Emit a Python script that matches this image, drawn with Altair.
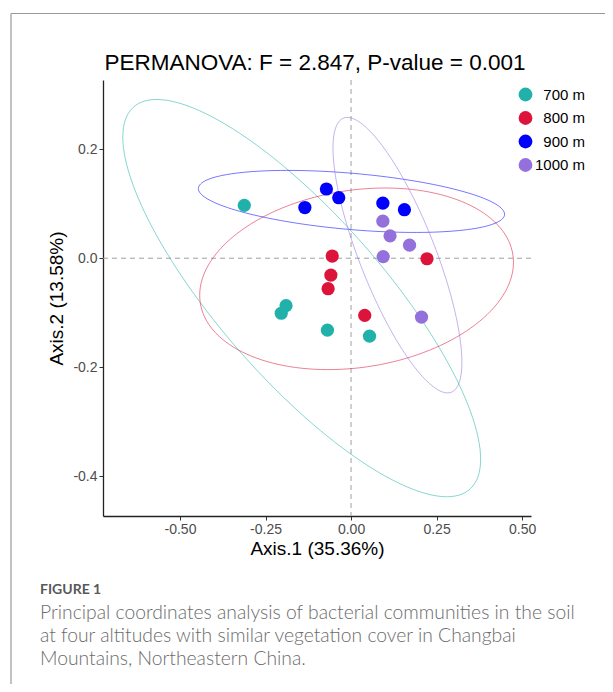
import altair as alt
import numpy as np
import pandas as pd

# ---- data ----
groups = ["700 m", "800 m", "900 m", "1000 m"]
colors = ["#20B2AA", "#DC143C", "#0000FF", "#9370DB"]

x_700 = [-0.312, -0.190, -0.204, -0.069, 0.054]
y_700 = [0.097, -0.087, -0.101, -0.132, -0.143]
x_800 = [-0.055, -0.059, -0.067, 0.040, 0.222]
y_800 = [0.004, -0.031, -0.056, -0.105, -0.001]
x_900 = [-0.072, -0.036, -0.135, 0.093, 0.156]
y_900 = [0.127, 0.111, 0.093, 0.101, 0.089]
x_1000 = [0.093, 0.114, 0.171, 0.094, 0.206]
y_1000 = [0.068, 0.041, 0.024, 0.003, -0.108]

xs = [x_700, x_800, x_900, x_1000]
ys = [y_700, y_800, y_900, y_1000]

title_text = "PERMANOVA: F = 2.847, P-value = 0.001"
x_title = "Axis.1 (35.36%)"
y_title = "Axis.2 (13.58%)"
x_ticks = [-0.5, -0.25, 0.0, 0.25, 0.5]
y_ticks = [-0.4, -0.2, 0.0, 0.2]
x_domain = [-0.725, 0.526]
y_domain = [-0.473, 0.327]

fig_label = "FIGURE 1"
caption_lines = [
    "Principal coordinates analysis of bacterial communities in the soil",
    "at four altitudes with similar vegetation cover in Changbai",
    "Mountains, Northeastern China.",
]

# ---- build tables ----
rows = []
for g, gx, gy in zip(groups, xs, ys):
    for a, b in zip(gx, gy):
        rows.append({"group": g, "x": a, "y": b})
pts = pd.DataFrame(rows)

# 95% confidence ellipses (t-based, as ggplot2 stat_ellipse) from each group's points
level = 0.95
ell_rows = []
for g, gx, gy in zip(groups, xs, ys):
    m = np.column_stack([gx, gy])
    n = m.shape[0]
    center = m.mean(axis=0)
    shape = np.cov(m.T)
    dfd = n - 1
    fq = dfd / 2.0 * ((1 - level) ** (-2.0 / dfd) - 1)  # qf(level, 2, dfd)
    radius = np.sqrt(2 * fq)
    L = np.linalg.cholesky(shape)
    seg = 150
    ang = np.arange(seg + 1) * 2 * np.pi / seg
    circ = np.column_stack([np.cos(ang), np.sin(ang)])
    e = center + radius * (circ @ L.T)
    for i, (a, b) in enumerate(e):
        ell_rows.append({"group": g, "x": a, "y": b, "o": i})
ell = pd.DataFrame(ell_rows)

zero = pd.DataFrame({"v": [0.0]})

FONT = "Liberation Sans"

xs_scale = alt.Scale(domain=x_domain, nice=False, zero=False)
ys_scale = alt.Scale(domain=y_domain, nice=False, zero=False)
color_scale = alt.Scale(domain=groups, range=colors)

x_axis = alt.Axis(values=x_ticks,
                  labelExpr="datum.value < 0 ? '-' + format(-datum.value, '.2f') : format(datum.value, '.2f')")
y_axis = alt.Axis(values=y_ticks,
                  labelExpr="datum.value < 0 ? '-' + format(-datum.value, '.1f') : format(datum.value, '.1f')")

x_enc = alt.X("x:Q", scale=xs_scale, title=x_title, axis=x_axis)
y_enc = alt.Y("y:Q", scale=ys_scale, title=y_title, axis=y_axis)

legend = alt.Legend(title=None, orient="none", legendX=415, legendY=7,
                    symbolSize=190, symbolType="circle", symbolStrokeWidth=0,
                    symbolOpacity=1,
                    labelFontSize=15, labelFont=FONT, labelColor="black",
                    labelAlign="right",
                    rowPadding=7.5, labelOffset=52)
color_enc = alt.Color("group:N", scale=color_scale, sort=groups, legend=legend)

vrule = alt.Chart(zero).mark_rule(color="#A0A0A0", strokeDash=[5, 4], strokeWidth=1).encode(
    x=alt.X("v:Q", scale=xs_scale, title=x_title, axis=x_axis))
hrule = alt.Chart(zero).mark_rule(color="#A0A0A0", strokeDash=[5, 4], strokeWidth=1).encode(
    y=alt.Y("v:Q", scale=ys_scale, title=y_title, axis=y_axis))

ellipses = alt.Chart(ell).mark_line(strokeWidth=0.9, opacity=0.6).encode(
    x=x_enc, y=y_enc, order="o:Q", color=color_enc, detail="group:N",
)

points = alt.Chart(pts).mark_circle(size=175, opacity=1).encode(
    x=x_enc, y=y_enc, color=color_enc,
)

title_mark = alt.Chart(pd.DataFrame({"t": [title_text]})).mark_text(
    align="center", baseline="alphabetic", font=FONT, fontSize=22.5, color="black"
).encode(text="t:N", x=alt.value(212), y=alt.value(-10))

fig_text = alt.Chart(pd.DataFrame({"t": [fig_label]})).mark_text(
    align="left", baseline="middle", font="Lato", fontSize=14, fontWeight="bold", color="#595959"
).encode(text="t:N", x=alt.value(-63), y=alt.value(510))

cap_text = alt.Chart(pd.DataFrame({"t": ["\n".join(caption_lines)]})).mark_text(
    align="left", baseline="middle", font="Lato", fontSize=19.3, fontWeight=300,
    color="#6b6b6b", lineBreak="\n", lineHeight=23
).encode(text="t:N", x=alt.value(-63), y=alt.value(533))

frame_top = alt.Chart(zero).mark_rule(color="#999999", strokeWidth=1.2).encode(
    x=alt.value(-92), x2=alt.value(505), y=alt.value(-66.5))
frame_left = alt.Chart(zero).mark_rule(color="#999999", strokeWidth=1.2).encode(
    x=alt.value(-92), y=alt.value(-66.5), y2=alt.value(604))

chart = alt.layer(
    frame_top, frame_left, vrule, hrule, ellipses, points, title_mark, fig_text, cap_text
).properties(
    width=428, height=436,
    padding={"left": 95, "top": 72, "right": 74, "bottom": 168},
    autosize=alt.AutoSizeParams(type="none"),
).configure_view(stroke=None).configure_axis(
    grid=False, domainColor="#222222", domainWidth=1.3, tickColor="#333333", tickSize=4,
    labelFont=FONT, labelFontSize=14, labelColor="#4D4D4D", labelPadding=2,
    titleFont=FONT, titleFontSize=19, titleColor="black", titleFontWeight="normal",
).configure_axisX(titlePadding=3).configure_axisY(titlePadding=6)

chart.save("out.html", embed_options={"renderer": "svg", "actions": False})
